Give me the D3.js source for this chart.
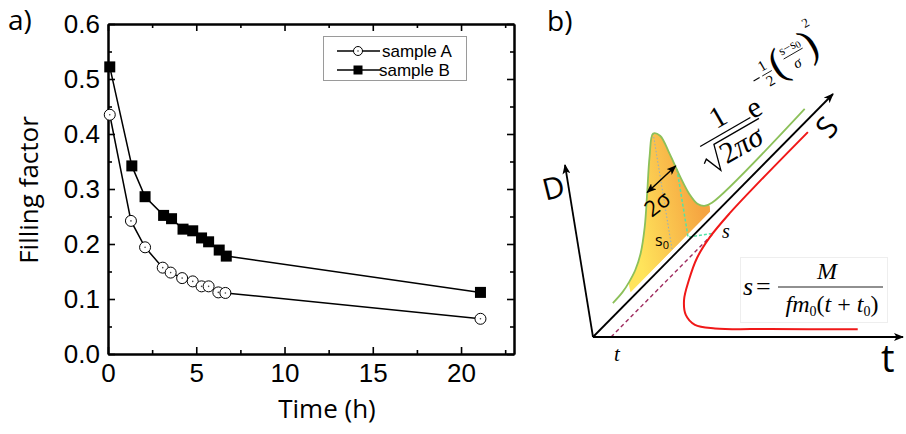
<!DOCTYPE html>
<html>
<head>
<meta charset="utf-8">
<script src="https://cdn.jsdelivr.net/npm/d3@7"></script>
<style>
  body { margin: 0; background: #fff; }
  svg { display: block; }
</style>
</head>
<body>
<svg id="fig" width="906" height="434"></svg>
<script>
// ---- panel a) values ----
var seriesNames = ["sample A", "sample B"];
var timeA = [0.1, 1.3, 2.1, 3.1, 3.55, 4.2, 4.8, 5.3, 5.7, 6.25, 6.65, 21.1];
var fillA = [0.435, 0.242, 0.194, 0.157, 0.148, 0.138, 0.132, 0.123, 0.123, 0.112, 0.111, 0.064];
var timeB = [0.1, 1.35, 2.1, 3.15, 3.6, 4.25, 4.8, 5.3, 5.7, 6.3, 6.7, 21.1];
var fillB = [0.522, 0.342, 0.286, 0.252, 0.246, 0.227, 0.224, 0.211, 0.204, 0.189, 0.178, 0.112];
var xMajor = [0, 5, 10, 15, 20];
var xMinor = [2.5, 7.5, 12.5, 17.5, 22.5];
var yMajor = [0, 0.1, 0.2, 0.3, 0.4, 0.5, 0.6];
var yMinor = [0.05, 0.15, 0.25, 0.35, 0.45, 0.55];

// ---- panel b) sketch, read in the sketch's own oblique units ----
// green curve: position along s, height above its baseline (along D)
var greenS = [31, 45, 55, 65, 75, 85, 95, 105, 114, 122, 130, 138, 146, 154, 162, 172, 304];
var greenH = [0, 1, 4, 9, 19, 38, 66, 95, 112, 104, 80, 52, 28, 12, 4, 0, 0];
// red curve s(t)
var redT = [12.5, 13, 14.5, 18.3, 26, 39.7, 54.5, 71, 90, 113.6, 169, 257];
var redS = [288, 219, 174, 140, 111, 80, 52, 31, 17, 12, 11.2, 11];

var svg = d3.select("#fig");
var sansA = "Liberation Sans, Arial, sans-serif";
var sansB = "Open Sans, sans-serif";
var serif = "Liberation Serif, Times New Roman, serif";

// ================= panel a =================
var x = d3.scaleLinear().domain([0, 23]).range([108, 514]);
var y = d3.scaleLinear().domain([0, 0.6]).range([354, 24]);

function addAxis(axis, tr) {
  var g = svg.append("g").attr("transform", tr).call(axis)
    .attr("font-size", 26).attr("font-family", sansA);
  g.select(".domain").attr("stroke-width", 2);
  g.selectAll(".tick line").attr("stroke-width", 1.6);
  g.selectAll(".tick text").attr("fill", "#000");
  return g;
}

addAxis(d3.axisBottom(x).tickValues(xMinor).tickFormat("").tickSize(-4).tickSizeOuter(0), "translate(0,354)");
addAxis(d3.axisTop(x).tickValues(xMinor).tickFormat("").tickSize(-4).tickSizeOuter(0), "translate(0,24)");
addAxis(d3.axisLeft(y).tickValues(yMinor).tickFormat("").tickSize(-4).tickSizeOuter(0), "translate(108,0)");
addAxis(d3.axisRight(y).tickValues(yMinor).tickFormat("").tickSize(-4).tickSizeOuter(0), "translate(514,0)");
addAxis(d3.axisBottom(x).tickValues(xMajor).tickFormat(d3.format("d")).tickSize(-7).tickSizeOuter(0).tickPadding(10), "translate(0,354)");
addAxis(d3.axisTop(x).tickValues(xMajor).tickFormat("").tickSize(-7).tickSizeOuter(0), "translate(0,24)");
addAxis(d3.axisLeft(y).tickValues(yMajor).tickFormat(d3.format(".1f")).tickSize(-7).tickSizeOuter(0).tickPadding(8), "translate(108,0)");
addAxis(d3.axisRight(y).tickValues(yMajor).tickFormat("").tickSize(-7).tickSizeOuter(0), "translate(514,0)");

var line = d3.line().x(function(d) { return x(d[0]); }).y(function(d) { return y(d[1]); });
var ptsA = d3.zip(timeA, fillA);
var ptsB = d3.zip(timeB, fillB);

[ptsA, ptsB].forEach(function(p) {
  svg.append("path").attr("d", line(p)).attr("fill", "none")
    .attr("stroke", "#000").attr("stroke-width", 1.5);
});

function circleMark(g, cx, cy, r) {
  g.append("circle").attr("cx", cx).attr("cy", cy).attr("r", r)
    .attr("fill", "#fff").attr("stroke", "#000").attr("stroke-width", 1);
  g.append("circle").attr("cx", cx).attr("cy", cy).attr("r", 0.8).attr("fill", "#444");
}
function squareMark(g, cx, cy, a) {
  g.append("rect").attr("x", cx - a / 2).attr("y", cy - a / 2)
    .attr("width", a).attr("height", a).attr("fill", "#000");
}

var marks = svg.append("g");
ptsB.forEach(function(d) { squareMark(marks, x(d[0]), y(d[1]), 11); });
ptsA.forEach(function(d) { circleMark(marks, x(d[0]), y(d[1]), 5.5); });

// legend
var leg = svg.append("g");
leg.append("rect").attr("x", 323.5).attr("y", 36.5).attr("width", 143).attr("height", 44)
  .attr("fill", "#fff").attr("stroke", "#9a9a9a").attr("stroke-width", 1);
seriesNames.forEach(function(name, i) {
  var ly = 51 + i * 19;
  leg.append("line").attr("x1", 337).attr("x2", 380).attr("y1", ly).attr("y2", ly)
    .attr("stroke", "#000").attr("stroke-width", 1.6);
  if (i === 0) circleMark(leg, 358, ly, 4.5); else squareMark(leg, 358, ly, 9);
  leg.append("text").attr("x", i === 0 ? 382 : 379).attr("y", ly + 6)
    .attr("font-family", sansA).attr("font-size", 17).text(name);
});

svg.append("text").attr("x", 327).attr("y", 418).attr("text-anchor", "middle")
  .attr("font-family", sansB).attr("font-size", 26).text("Time (h)");
svg.append("text").attr("transform", "translate(38,190) rotate(-90)").attr("text-anchor", "middle")
  .attr("font-family", sansB).attr("font-size", 26).text("Filling factor");
svg.append("text").attr("x", 8).attr("y", 30).attr("font-family", sansB).attr("font-size", 28).text("a)");
svg.append("text").attr("x", 547).attr("y", 31).attr("font-family", sansB).attr("font-size", 28).text("b)");

// ================= panel b =================
var O = [593, 337];
var uS = [0.7027, -0.7115];   // s direction
var uD = [-0.1607, -0.9868];  // D direction
var base = 12;                // green baseline offset from the s axis
function pSD(s, d) { return [O[0] + s * uS[0] + d * uD[0], O[1] + s * uS[1] + d * uD[1]]; }
function pTS(t, s) { return [O[0] + t + s * uS[0], O[1] + s * uS[1]]; }

var defs = svg.append("defs");
defs.append("marker").attr("id", "arr").attr("viewBox", "0 0 10 8")
  .attr("refX", 9).attr("refY", 4).attr("markerWidth", 10).attr("markerHeight", 8)
  .attr("markerUnits", "userSpaceOnUse").attr("orient", "auto-start-reverse")
  .append("path").attr("d", "M0,0 L10,4 L0,8 L2.5,4 z").attr("fill", "#000");
var grad = defs.append("linearGradient").attr("id", "fillg").attr("gradientUnits", "userSpaceOnUse")
  .attr("x1", 636).attr("y1", 240).attr("x2", 706).attr("y2", 225);
grad.append("stop").attr("offset", 0).attr("stop-color", "#ffe45b");
grad.append("stop").attr("offset", 1).attr("stop-color", "#f5a441");

var cr = d3.line().curve(d3.curveCatmullRom.alpha(0.5));
var green = d3.zip(greenS, greenH);

// filled hump
var inner = green.filter(function(d) { return d[0] >= 55 && d[0] <= 162; });
var hump = [pSD(55, 6)].concat(inner.map(function(d) { return pSD(d[0], base + d[1]); }), [pSD(168, base + 1), pSD(168, 6)]);
svg.append("path").attr("d", d3.line().curve(d3.curveLinearClosed)(hump)).attr("fill", "url(#fillg)");
svg.append("path").attr("d", cr(hump)).attr("fill", "url(#fillg)");

// dotted line from the peak down, dashed projections
svg.append("path").attr("d", d3.line()([pSD(114, base + 112), pSD(114, 6)]))
  .attr("stroke", "#8eaec6").attr("stroke-width", 1).attr("stroke-dasharray", "1.5,2").attr("fill", "none");
var tDash = 18, sDash = 146;
svg.append("path").attr("d", d3.line()([pTS(tDash, 0), pTS(tDash, sDash)]))
  .attr("stroke", "#9e2a5e").attr("stroke-width", 1.4).attr("stroke-dasharray", "4,3").attr("fill", "none");
svg.append("path").attr("d", d3.line()([pSD(136, base + 60), pSD(136, 3), pTS(tDash, sDash)]))
  .attr("stroke", "#55e3a4").attr("stroke-width", 1.5).attr("stroke-dasharray", "3,2").attr("fill", "none");

// green curve
svg.append("path").attr("d", cr(green.map(function(d) { return pSD(d[0], base + d[1]); })))
  .attr("fill", "none").attr("stroke", "#8cc05a").attr("stroke-width", 1.8);

// red curve
svg.append("path").attr("d", cr(d3.zip(redT, redS).map(function(d) { return pTS(d[0], d[1]); })))
  .attr("fill", "none").attr("stroke", "#f01818").attr("stroke-width", 2);

// axes of the sketch
[[O, [903, 337]], [O, [833, 94]], [O, [565, 165]]].forEach(function(a) {
  svg.append("path").attr("d", d3.line()(a)).attr("stroke", "#000").attr("stroke-width", 1.8)
    .attr("fill", "none").attr("marker-end", "url(#arr)");
});

// 2 sigma arrow
svg.append("path").attr("d", d3.line()([pSD(95, base + 66), pSD(135, base + 64)]))
  .attr("stroke", "#000").attr("stroke-width", 1.5).attr("fill", "none")
  .attr("marker-start", "url(#arr)").attr("marker-end", "url(#arr)");
svg.append("text").attr("transform", "translate(662,210) rotate(-38)").attr("text-anchor", "middle")
  .attr("font-family", sansB).attr("font-size", 22).text("2σ");

var s0 = svg.append("text").attr("x", 655).attr("y", 246).attr("font-family", sansB).attr("font-size", 16);
s0.append("tspan").text("s");
s0.append("tspan").attr("font-size", 11).attr("dy", 3).text("0");

svg.append("text").attr("x", 722).attr("y", 238).attr("font-family", serif).attr("font-style", "italic")
  .attr("font-size", 20).text("s");
svg.append("text").attr("x", 614).attr("y", 361).attr("font-family", serif).attr("font-style", "italic")
  .attr("font-size", 21).text("t");
svg.append("text").attr("x", 881).attr("y", 372).attr("font-family", sansB).attr("font-size", 38).text("t");
svg.append("text").attr("transform", "translate(556,198) rotate(-14)").attr("text-anchor", "middle")
  .attr("font-family", sansB).attr("font-size", 30).text("D");
svg.append("text").attr("transform", "translate(835,134) rotate(-50)").attr("text-anchor", "middle")
  .attr("font-family", sansB).attr("font-size", 30).text("S");

// gaussian formula, written along a -30 degree baseline
var fg = svg.append("g").attr("transform", "translate(727,131) rotate(-30)")
  .attr("font-family", serif);
fg.append("text").attr("x", -1).attr("y", -7).attr("text-anchor", "middle").attr("font-size", 30).text("1");
fg.append("line").attr("x1", -31).attr("x2", 27).attr("y1", 0).attr("y2", 0).attr("stroke", "#000").attr("stroke-width", 1.3);
fg.append("path").attr("d", "M-36,17 L-32,14 L-25,31 L-18,5 L34,5").attr("fill", "none")
  .attr("stroke", "#000").attr("stroke-width", 1.3);
var den = fg.append("text").attr("x", -17).attr("y", 29).attr("font-size", 30);
den.append("tspan").text("2");
den.append("tspan").attr("font-style", "italic").text("πσ");
fg.append("text").attr("x", 28).attr("y", 3).attr("font-size", 30).text("e");
fg.append("line").attr("x1", 48).attr("x2", 55).attr("y1", -30).attr("y2", -30).attr("stroke", "#000");
fg.append("text").attr("x", 63).attr("y", -34).attr("text-anchor", "middle").attr("font-size", 15).text("1");
fg.append("line").attr("x1", 58).attr("x2", 69).attr("y1", -30).attr("y2", -30).attr("stroke", "#000").attr("stroke-width", 0.8);
fg.append("text").attr("x", 63).attr("y", -17).attr("text-anchor", "middle").attr("font-size", 15).text("2");
fg.append("text").attr("x", 77).attr("y", -19.5).attr("text-anchor", "middle").attr("font-size", 42).text("(");
var num = fg.append("text").attr("x", 96).attr("y", -38).attr("text-anchor", "middle").attr("font-size", 13);
num.append("tspan").text("s−s");
num.append("tspan").attr("font-size", 10).attr("dy", 2).text("0");
fg.append("line").attr("x1", 85).attr("x2", 107).attr("y1", -34).attr("y2", -34).attr("stroke", "#000").attr("stroke-width", 0.8);
fg.append("text").attr("x", 95).attr("y", -19).attr("text-anchor", "middle").attr("font-size", 15)
  .attr("font-style", "italic").text("σ");
fg.append("text").attr("x", 114).attr("y", -21).attr("text-anchor", "middle").attr("font-size", 42).text(")");
fg.append("text").attr("x", 122).attr("y", -50).attr("text-anchor", "middle").attr("font-size", 13).text("2");

// s(t) formula
var fb = svg.append("g").attr("font-family", serif);
fb.append("rect").attr("x", 740.5).attr("y", 257.5).attr("width", 147).attr("height", 65)
  .attr("fill", "#fff").attr("stroke", "#eeeeee");
fb.append("text").attr("x", 743).attr("y", 295).attr("font-size", 26).attr("font-style", "italic").text("s");
fb.append("text").attr("x", 756).attr("y", 295).attr("font-size", 26).text("=");
fb.append("line").attr("x1", 778).attr("x2", 883).attr("y1", 287).attr("y2", 287).attr("stroke", "#222").attr("stroke-width", 1.2);
fb.append("text").attr("x", 827).attr("y", 279).attr("text-anchor", "middle").attr("font-size", 24)
  .attr("font-style", "italic").text("M");
var dn = fb.append("text").attr("x", 832).attr("y", 312).attr("text-anchor", "middle").attr("font-size", 24);
dn.append("tspan").attr("font-style", "italic").text("fm");
dn.append("tspan").attr("font-size", 14).attr("dy", 4).text("0");
dn.append("tspan").attr("dy", -4).text("(");
dn.append("tspan").attr("font-style", "italic").text("t");
dn.append("tspan").text(" + ");
dn.append("tspan").attr("font-style", "italic").text("t");
dn.append("tspan").attr("font-size", 14).attr("dy", 4).text("0");
dn.append("tspan").attr("dy", -4).text(")");
</script>
</body>
</html>
